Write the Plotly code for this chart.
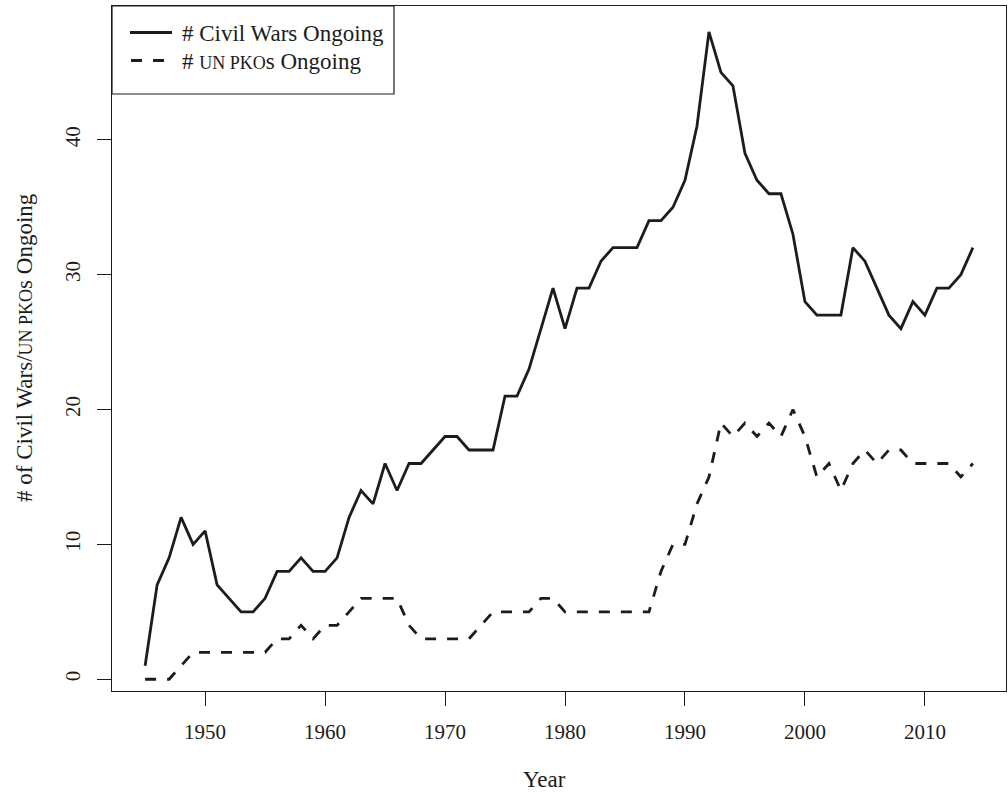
import plotly.graph_objects as go

# ---- data ----
years = list(range(1945, 2015))
civil_wars = [1, 7, 9, 12, 10, 11, 7, 6, 5, 5,
              6, 8, 8, 9, 8, 8, 9, 12, 14, 13,
              16, 14, 16, 16, 17, 18, 18, 17, 17, 17,
              21, 21, 23, 26, 29, 26, 29, 29, 31, 32,
              32, 32, 34, 34, 35, 37, 41, 48, 45, 44,
              39, 37, 36, 36, 33, 28, 27, 27, 27, 32,
              31, 29, 27, 26, 28, 27, 29, 29, 30, 32]
un_pkos = [0, 0, 0, 1, 2, 2, 2, 2, 2, 2,
           2, 3, 3, 4, 3, 4, 4, 5, 6, 6,
           6, 6, 4, 3, 3, 3, 3, 3, 4, 5,
           5, 5, 5, 6, 6, 5, 5, 5, 5, 5,
           5, 5, 5, 8, 10, 10, 13, 15, 19, 18,
           19, 18, 19, 18, 20, 18, 15, 16, 14, 16,
           17, 16, 17, 17, 16, 16, 16, 16, 15, 16]
x_ticks = [1950, 1960, 1970, 1980, 1990, 2000, 2010]
y_ticks = [0, 10, 20, 30, 40]

FONT = "Liberation Serif"
INK = "#1c1c1c"
W, H = 1008, 792
L, R, T, B = 112, 1006, 6, 691  # plot box in pixels


def px(x):
    return (x - L) / (R - L)


def py(y):
    return (B - y) / (B - T)


fig = go.Figure()
fig.add_trace(go.Scatter(x=years, y=civil_wars, mode="lines",
                         line=dict(color=INK, width=2.8),
                         name="# Civil Wars Ongoing", showlegend=False))
fig.add_trace(go.Scatter(x=years, y=un_pkos, mode="lines",
                         line=dict(color=INK, width=2.8, dash="11px,11px"),
                         name="# UN PKOs Ongoing", showlegend=False))

axis_common = dict(showgrid=False, zeroline=False, showline=True, mirror=True,
                   linecolor=INK, linewidth=1.2, ticks="outside", ticklen=14,
                   tickwidth=1.2, tickcolor=INK,
                   tickfont=dict(family=FONT, size=21, color=INK))

fig.update_xaxes(range=[1942.24, 2016.76], tickvals=x_ticks,
                 ticktext=[str(v) for v in x_ticks], ticklabelstandoff=8,
                 **axis_common)
fig.update_yaxes(range=[-0.87, 49.92], tickvals=y_ticks,
                 ticktext=[str(v) for v in y_ticks], tickangle=-90,
                 ticklabelstandoff=9, **axis_common)

small = "font-size:18px"
shapes = [
    dict(type="rect", xref="paper", yref="paper", x0=0, x1=px(394),
         y0=py(94), y1=1, line=dict(color=INK, width=1.2),
         fillcolor="white", layer="above"),
    dict(type="line", xref="paper", yref="paper", x0=px(130), x1=px(172),
         y0=py(32.5), y1=py(32.5), line=dict(color=INK, width=2.8)),
    dict(type="line", xref="paper", yref="paper", x0=px(131), x1=px(175),
         y0=py(60.5), y1=py(60.5),
         line=dict(color=INK, width=2.8, dash="11px,11px")),
]
annotations = [
    dict(text="# Civil Wars Ongoing", xref="paper", yref="paper",
         x=px(180), y=py(33), xanchor="left", yanchor="middle",
         showarrow=False, font=dict(family=FONT, size=23, color=INK)),
    dict(text=f"# <span style='{small}'>UN PKO</span>s Ongoing",
         xref="paper", yref="paper", x=px(180), y=py(61), xanchor="left",
         yanchor="middle", showarrow=False,
         font=dict(family=FONT, size=23, color=INK)),
    dict(text="Year", xref="paper", yref="paper", x=px(544), y=py(779),
         xanchor="center", yanchor="middle", showarrow=False,
         font=dict(family=FONT, size=23, color=INK)),
    dict(text=f"# of Civil Wars/<span style='{small}'>UN PKO</span>s Ongoing",
         xref="paper", yref="paper", x=px(24), y=py(348), xanchor="center",
         yanchor="middle", textangle=-90, showarrow=False,
         font=dict(family=FONT, size=23, color=INK)),
]

fig.update_layout(width=W, height=H, autosize=False,
                  margin=dict(l=L, r=W - R, t=T, b=H - B, pad=0),
                  paper_bgcolor="white", plot_bgcolor="white",
                  shapes=shapes, annotations=annotations, showlegend=False)

fig.write_html("out.html", config={"displayModeBar": False},
               post_script="document.body.style.margin='0';"
                           "document.body.style.overflow='hidden';")
